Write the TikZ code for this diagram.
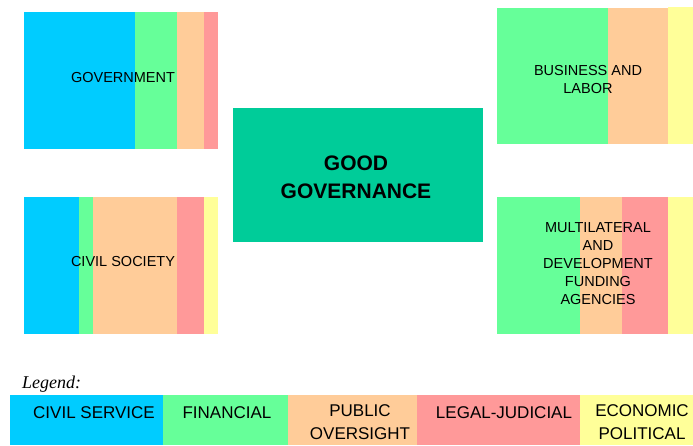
\documentclass[tikz,border=0pt]{standalone}
\usepackage{fontspec}
\setmainfont{Liberation Sans}
\newfontfamily\legendfont{Liberation Serif}
\usetikzlibrary{positioning}
\definecolor{civblue}{HTML}{00CCFF}
\definecolor{fingreen}{HTML}{66FF99}
\definecolor{puborange}{HTML}{FFCC99}
\definecolor{legred}{HTML}{FF9999}
\definecolor{ecoyellow}{HTML}{FFFF99}
\definecolor{goodgreen}{HTML}{00CC99}
\tikzstyle{boxtext} = [font=\fontsize{14.5}{18}\selectfont, align=center, inner sep=0pt]
\tikzstyle{keytext} = [font=\fontsize{17}{23}\selectfont, align=center, inner sep=0pt]
\tikzset{goodtext/.style={font=\fontsize{21}{28}\bfseries, align=center, inner sep=0pt}}

\begin{document}
\begin{tikzpicture}[x=1pt,y=-1pt]
  \useasboundingbox (0,0) rectangle (693,445);
  % government
  \fill[civblue] (24,12) rectangle (135,149);
  \fill[fingreen] (135,12) rectangle (177,149);
  \fill[puborange] (177,12) rectangle (204,149);
  \fill[legred] (204,12) rectangle (218,149);
  \node[boxtext] (gov) at (123,78) {GOVERNMENT};
  % civil society
  \fill[civblue] (24,197) rectangle (79,334);
  \fill[fingreen] (79,197) rectangle (93,334);
  \fill[puborange] (93,197) rectangle (177,334);
  \fill[legred] (177,197) rectangle (204,334);
  \fill[ecoyellow] (204,197) rectangle (218,334);
  \node[boxtext] (civ) at (123,262) {CIVIL SOCIETY};
  % business and labor
  \fill[fingreen] (497,8) rectangle (608,144);
  \fill[puborange] (608,8) rectangle (668,144);
  \fill[ecoyellow] (668,7) rectangle (693,144);
  \node[boxtext] (bus) at (588,80) {BUSINESS AND\\LABOR};
  % multilateral
  \fill[fingreen] (497,197) rectangle (580,334);
  \fill[puborange] (580,197) rectangle (622,334);
  \fill[legred] (622,197) rectangle (668,334);
  \fill[ecoyellow] (668,197) rectangle (693,334);
  \node[boxtext] (mdf) at (598,264) {MULTILATERAL\\AND\\DEVELOPMENT\\FUNDING\\AGENCIES};
  % centre
  \fill[goodgreen] (233,108) rectangle (483,242);
  \node[goodtext] (good) at (356,177) {GOOD\\GOVERNANCE};
  % legend
  \node[font=\legendfont\itshape\fontsize{18}{20}\selectfont, anchor=base west, inner sep=0pt] (legend) at (22,388) {Legend:};
  \foreach \col/\a/\b in {civblue/10/163, fingreen/163/288, puborange/288/417, legred/417/580, ecoyellow/580/693}
    \fill[\col] (\a,395) rectangle (\b,445);
  \node[keytext] (kcs) at (94,413) {CIVIL SERVICE};
  \node[keytext] (kfin) at (227,413) {FINANCIAL};
  \node[keytext] (kpub) at (360,422) {PUBLIC\\OVERSIGHT};
  \node[keytext] (kleg) at (504,413) {LEGAL-JUDICIAL};
  \node[keytext] (keco) at (642,422) {ECONOMIC\\POLITICAL};
\end{tikzpicture}
\end{document}
